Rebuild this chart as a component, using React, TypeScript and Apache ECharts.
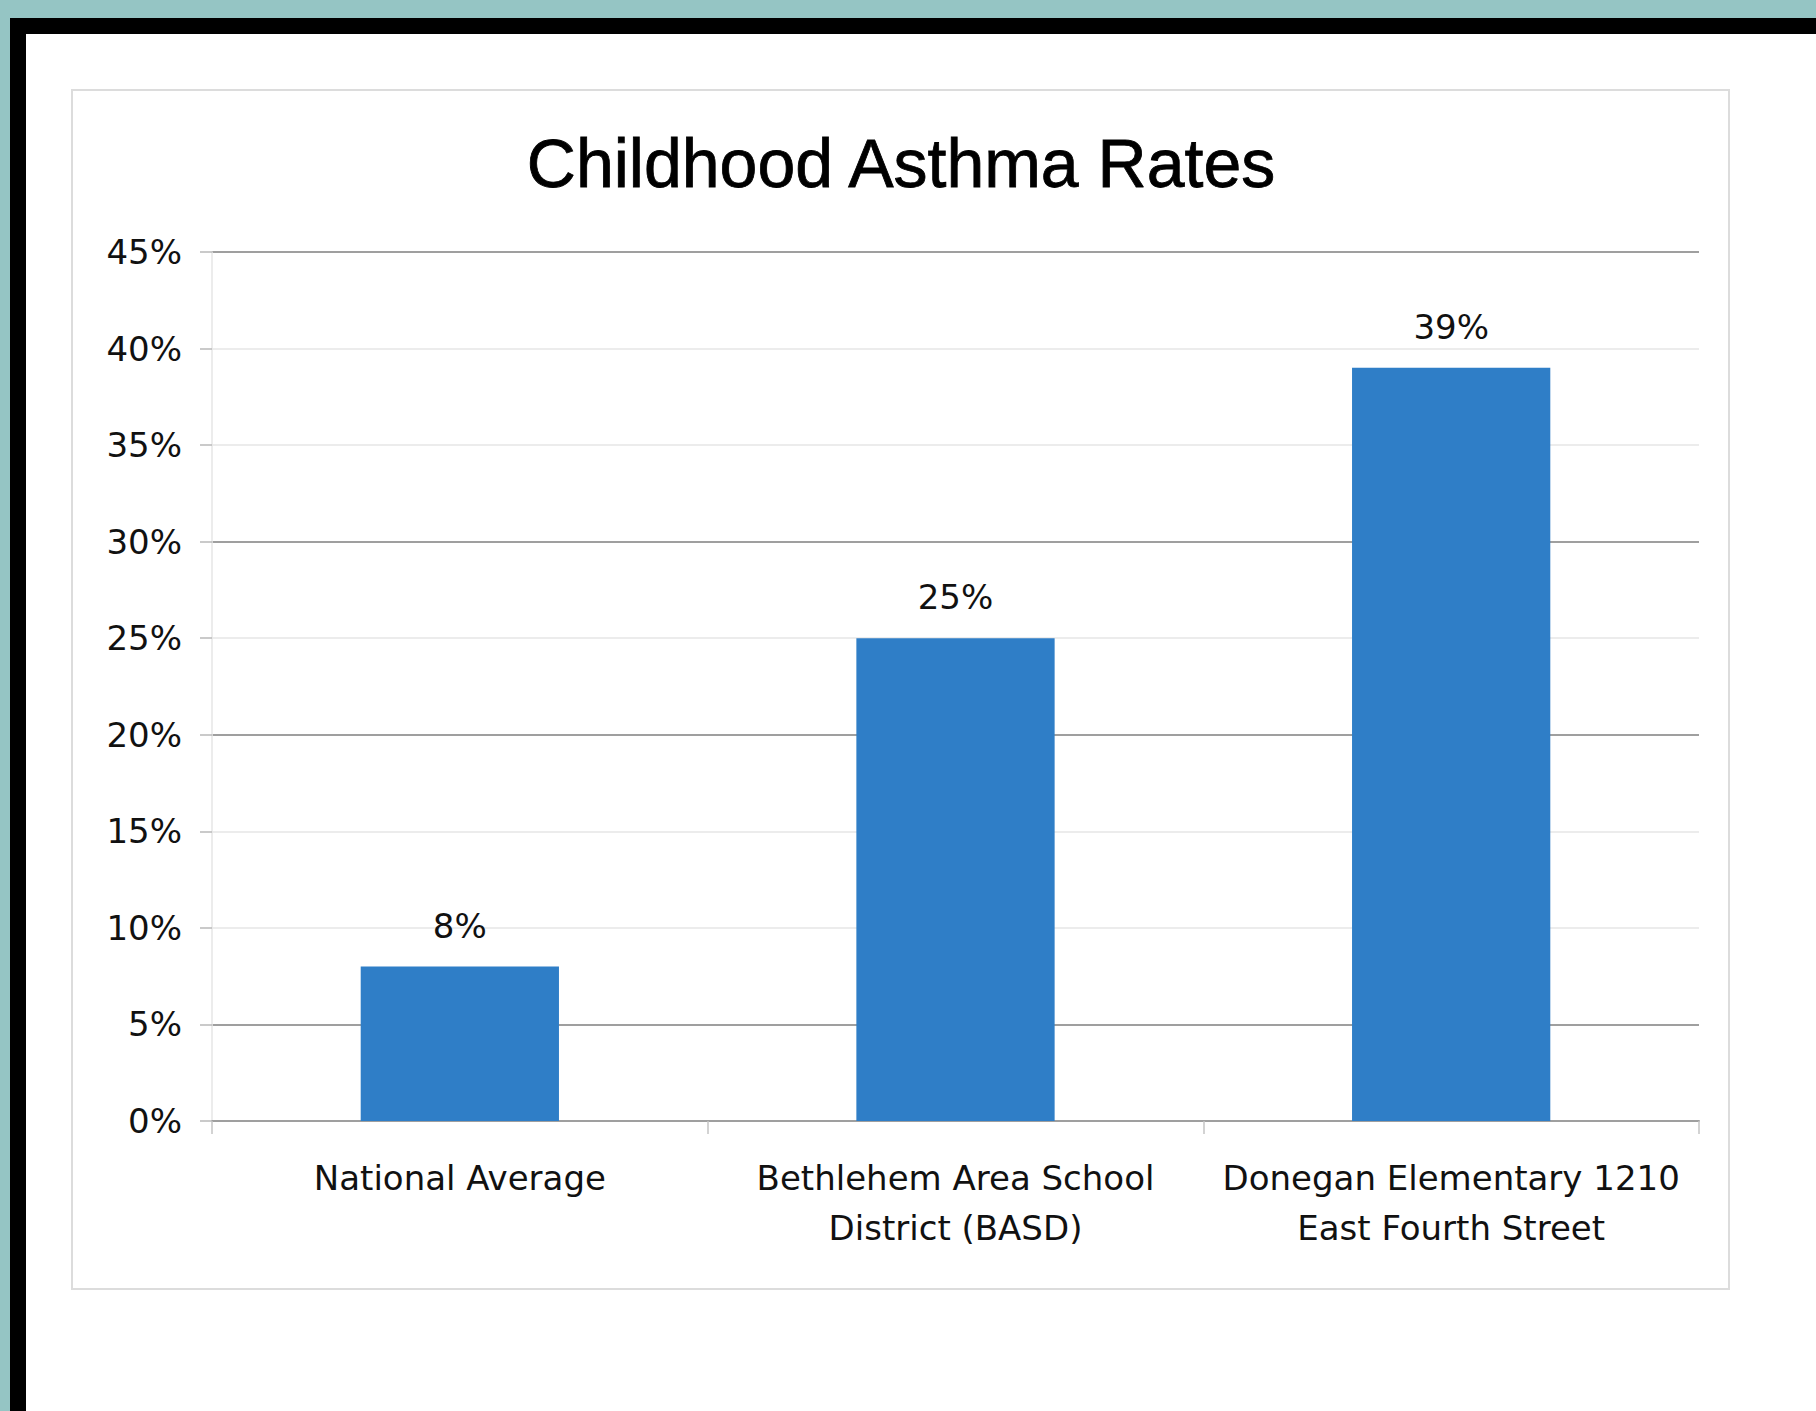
import React, { useEffect, useRef } from "react";
import * as echarts from "echarts";

const chartTitle = "Childhood Asthma Rates";
const categories = [
  "National Average",
  "Bethlehem Area School\nDistrict (BASD)",
  "Donegan Elementary 1210\nEast Fourth Street",
];
const rates = [8, 25, 39];
const yMin = 0;
const yMax = 45;
const yStep = 5;

const DARK = "#9f9f9f";
const LIGHT = "#ececec";
// gridline shades from 0% upwards, as they appear in the reference
const gridShades = [DARK, DARK, LIGHT, LIGHT, DARK, LIGHT, DARK, LIGHT, LIGHT, DARK];

export default function App() {
  const ref = useRef<HTMLDivElement>(null);

  useEffect(() => {
    document.body.style.margin = "0";
    if (!ref.current) return;
    const chart = echarts.init(ref.current, undefined, { renderer: "svg" });
    const textFont = "'DejaVu Sans', sans-serif";
    chart.setOption({
      animation: false,
      title: {
        text: chartTitle,
        left: 896,
        top: 124,
        textAlign: "center",
        textStyle: {
          fontFamily: "'Liberation Sans', Arial, sans-serif",
          fontSize: 68,
          fontWeight: "normal",
          color: "#000",
          textBorderColor: "#000",
          textBorderWidth: 0.8,
        },
      },
      graphic: [
        {
          type: "rect",
          z: -10,
          shape: { x: 72, y: 90, width: 1657, height: 1199 },
          style: { fill: "none", stroke: "#dcdcdc", lineWidth: 2 },
        },
      ],
      grid: { left: 212, right: 117, top: 252, bottom: 290, containLabel: false },
      xAxis: {
        type: "category",
        data: categories,
        axisLine: { show: true, lineStyle: { color: DARK, width: 2 } },
        axisTick: { show: true, length: 13, lineStyle: { color: "#c4c4c4", width: 1.5 } },
        axisLabel: {
          margin: 32,
          fontFamily: textFont,
          fontSize: 34,
          lineHeight: 50,
          color: "#111",
          interval: 0,
        },
        splitLine: { show: false },
      },
      yAxis: {
        type: "value",
        min: yMin,
        max: yMax,
        interval: yStep,
        axisLine: { show: true, lineStyle: { color: "#e6e6e6", width: 1.5 } },
        axisTick: { show: true, length: 12, lineStyle: { color: "#b8b8b8", width: 1.5 } },
        axisLabel: {
          margin: 30,
          fontFamily: textFont,
          fontSize: 34,
          color: "#111",
          formatter: "{value}%",
        },
        splitLine: { show: true, lineStyle: { color: gridShades, width: 2 } },
      },
      series: [
        {
          type: "bar",
          data: rates,
          barCategoryGap: "60%",
          itemStyle: { color: "#2f7ec7" },
          label: {
            show: true,
            position: "top",
            distance: 24,
            formatter: "{c}%",
            fontFamily: textFont,
            fontSize: 34,
            color: "#111",
          },
        },
      ],
    });
    return () => chart.dispose();
  }, []);

  return (
    <div style={{ position: "absolute", left: 0, top: 0, width: 1816, height: 1411, background: "#95c5c4", overflow: "hidden" }}>
      <div style={{ position: "absolute", left: 10, top: 18, width: 1806, height: 1393, background: "#000" }} />
      <div style={{ position: "absolute", left: 26, top: 34, width: 1790, height: 1377, background: "#fff" }} />
      <div ref={ref} style={{ position: "absolute", left: 0, top: 0, width: 1816, height: 1411 }} />
    </div>
  );
}
